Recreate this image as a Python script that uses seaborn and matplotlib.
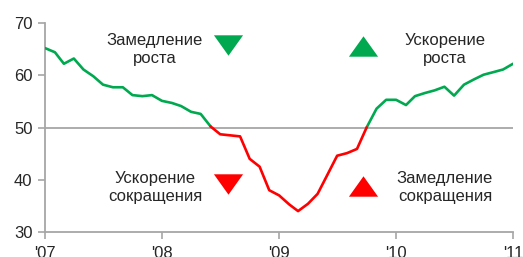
import matplotlib
matplotlib.use("Agg")
import matplotlib.pyplot as plt
import seaborn as sns
import pandas as pd
import numpy as np

# Monthly index values, Jan 2007 .. Jan 2011
months = pd.date_range("2007-01-01", "2011-01-01", freq="MS")
values = [65.2, 64.4, 62.2, 63.2, 61.1, 59.8, 58.2, 57.7, 57.7, 56.2, 56.0, 56.2,
          55.1, 54.7, 54.1, 53.0, 52.6, 50.2, 48.7, 48.5, 48.3, 44.0, 42.5, 38.0,
          37.0, 35.3, 34.0, 35.4, 37.3, 41.0, 44.6, 45.1, 45.9, 50.0, 53.6, 55.3,
          55.3, 54.3, 56.0, 56.6, 57.1, 57.8, 56.1, 58.2, 59.2, 60.1, 60.6, 61.1, 62.2]
# segments: (start index, end index, regime)
segments = [(0, 17, "рост"), (17, 33, "сокращение"), (33, 48, "рост")]
x_tick_years = ["2007", "2008", "2009", "2010", "2011"]
x_tick_labels = ["'07", "'08", "'09", "'10", "'11"]
y_ticks = [30, 40, 50, 60, 70]

GREEN = "#00A94F"
RED = "#FF0000"
TXT = "#262626"
AX = "#A6A6A6"

rows = []
for sid, (a, b, reg) in enumerate(segments):
    for i in range(a, b + 1):
        rows.append({"date": months[i], "value": values[i], "seg": sid, "regime": reg})
df = pd.DataFrame(rows)

sns.set_style("white")
plt.rcParams["font.family"] = ["Liberation Sans", "DejaVu Sans"]

fig = plt.figure(figsize=(5.23, 2.57), dpi=100)
ax = fig.add_axes([45 / 523, 25 / 257, (513 - 45) / 523, (232 - 23) / 257])

sns.lineplot(data=df, x="date", y="value", hue="regime", units="seg", estimator=None,
             palette={"рост": GREEN, "сокращение": RED}, linewidth=1.9, ax=ax,
             legend=False, zorder=3)

ax.axhline(50, color=AX, linewidth=1.3, zorder=2)

ax.set_xlim(pd.Timestamp("2007-01-01"), pd.Timestamp("2011-01-01"))
ax.set_ylim(30, 70)
ax.set_xticks([pd.Timestamp(y + "-01-01") for y in x_tick_years])
ax.set_xticklabels(x_tick_labels)
ax.set_yticks(y_ticks)
ax.set_xlabel("")
ax.set_ylabel("")

for s in ["top", "right"]:
    ax.spines[s].set_visible(False)
for s in ["left", "bottom"]:
    ax.spines[s].set_color(AX)
    ax.spines[s].set_linewidth(1.3)
ax.tick_params(axis="both", which="major", direction="out", length=5, width=1.2,
               color=AX, labelsize=12, labelcolor=TXT, left=True, bottom=True)
ax.tick_params(axis="y", pad=4)
ax.tick_params(axis="x", pad=5)
ax.grid(False)

def frac_x(px):
    return (px - 45) / (513 - 45)

def frac_y(py):
    return (232 - py) / (232 - 23)

tri_down = [(-1, 0.7), (1, 0.7), (0, -0.7)]
tri_up = [(-1, -0.7), (1, -0.7), (0, 0.7)]

labels = [
    ("Замедление\nроста", 155, 49),
    ("Ускорение\nроста", 445, 49),
    ("Ускорение\nсокращения", 155, 187),
    ("Замедление\nсокращения", 445, 187),
]
for txt, px, py in labels:
    ax.text(frac_x(px), frac_y(py), txt, transform=ax.transAxes, ha="center",
            va="center", fontsize=12, color=TXT, linespacing=1.25)

markers = [(228, 45, tri_down, GREEN), (363, 46, tri_up, GREEN),
           (228, 184, tri_down, RED), (363, 186, tri_up, RED)]
for px, py, m, c in markers:
    ax.plot([frac_x(px)], [frac_y(py)], marker=m, markersize=21, color=c,
            markeredgewidth=0, transform=ax.transAxes, clip_on=False)

fig.savefig("out.png", dpi=100)
